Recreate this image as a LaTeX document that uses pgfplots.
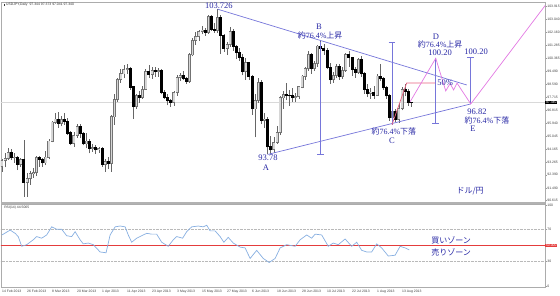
\documentclass[border=0pt]{standalone}
\usepackage{pgfplots}
\pgfplotsset{compat=1.18}
\usepackage{pgfplotstable}
\usepackage{fontspec}
\setmainfont{Liberation Serif}
\newfontfamily\cjk{Noto Sans CJK JP}
\newfontfamily\ui{Liberation Sans}

\definecolor{annoblue}{RGB}{118,118,218}
\definecolor{textblue}{RGB}{40,40,165}
\definecolor{zigpink}{RGB}{226,120,226}
\definecolor{halfred}{RGB}{232,96,128}
\definecolor{rsiblue}{RGB}{135,175,225}
\definecolor{levelred}{RGB}{228,60,60}

% daily bars: index, high, low
\pgfplotstableread{
x h l
0 93.50 92.60
1 93.85 92.90
2 94.20 93.40
3 94.15 93.40
4 93.90 93.20
5 93.70 92.70
6 93.55 92.95
7 94.75 90.90
8 92.50 90.85
9 92.65 91.70
10 92.85 92.20
11 93.65 92.30
12 93.70 92.95
13 93.55 92.95
14 94.00 93.05
15 94.85 93.50
16 96.05 94.60
17 96.60 95.90
18 96.70 95.60
19 96.40 95.70
20 96.60 95.80
21 96.30 95.10
22 95.40 94.40
23 95.30 94.30
24 95.90 94.90
25 95.90 94.90
26 95.30 94.40
27 95.25 94.20
28 94.85 93.85
29 94.50 93.95
30 94.40 93.80
31 94.30 93.90
32 94.30 92.95
33 93.50 92.60
34 93.60 92.80
35 96.50 92.60
36 97.90 95.80
37 99.00 97.40
38 99.60 98.70
39 99.90 99.00
40 99.95 99.30
41 99.75 98.20
42 98.50 96.20
43 97.95 96.90
44 98.10 97.30
45 98.50 97.60
46 99.60 98.20
47 99.90 99.05
48 99.75 98.95
49 99.80 99.10
50 99.70 99.10
51 99.60 97.90
52 98.20 97.55
53 97.95 97.15
54 97.60 97.05
55 98.10 97.10
56 99.20 97.80
57 99.35 98.80
58 99.50 98.85
59 99.10 98.60
60 100.70 98.70
61 101.75 100.50
62 102.15 101.30
63 102.30 101.55
64 102.55 102.00
65 102.45 101.90
66 103.30 102.05
67 103.30 102.25
68 102.80 102.10
69 103.73 102.10
70 103.35 100.65
71 102.05 100.80
72 101.45 100.60
73 102.50 101.15
74 102.35 100.90
75 101.30 100.30
76 101.05 100.20
77 100.65 99.20
78 100.40 98.90
79 100.10 98.90
80 99.20 96.50
81 97.90 94.95
82 99.00 97.30
83 98.90 95.90
84 96.60 95.60
85 96.35 93.78
86 95.05 93.80
87 95.00 93.90
88 95.70 94.50
89 97.80 95.10
90 98.10 96.90
91 98.70 97.50
92 98.20 97.10
93 98.30 97.40
94 98.00 97.40
95 98.50 97.60
96 99.20 98.30
97 99.80 98.90
98 100.85 99.50
99 100.75 99.30
100 100.15 99.50
101 101.25 99.80
102 101.53 100.80
103 101.35 100.60
104 101.05 99.60
105 100.05 98.60
106 99.40 98.70
107 99.95 99.00
108 100.00 98.90
109 99.75 98.95
110 100.70 99.45
111 100.85 99.80
112 100.45 99.15
113 99.75 99.05
114 100.40 99.30
115 100.50 99.10
116 99.40 97.95
117 98.60 97.70
118 98.30 97.60
119 98.50 97.60
120 99.30 97.80
121 99.95 98.80
122 99.10 98.20
123 98.45 97.60
124 97.95 96.10
125 96.95 95.82
126 96.90 96.00
127 97.30 95.95
128 98.40 96.80
129 98.60 97.75
130 98.25 97.10
131 97.373 97.041
}\ranges

% rising bars: index, open, close
\pgfplotstableread{
x o c
0 92.95 93.35
1 93.35 93.50
2 93.50 93.90
4 93.55 93.60
6 93.10 93.40
8 91.85 92.15
9 92.15 92.45
10 92.45 92.55
11 92.55 93.55
14 93.20 93.60
15 93.60 94.70
16 94.70 96.00
17 96.00 96.20
19 95.90 96.15
23 94.55 95.10
24 95.10 95.70
27 94.50 94.70
29 94.20 94.25
31 94.10 94.20
33 93.10 93.30
35 93.15 96.35
36 96.35 97.55
37 97.55 98.90
38 98.90 99.30
39 99.30 99.60
40 99.60 99.65
43 97.05 97.80
45 97.70 98.25
46 98.25 99.45
48 99.25 99.55
50 99.45 99.50
55 97.35 98.00
56 98.00 99.05
57 99.05 99.20
60 98.80 100.60
61 100.60 101.60
62 101.60 101.85
63 101.85 102.20
64 102.20 102.30
66 102.15 103.20
69 102.30 103.15
72 101.05 101.30
73 101.30 102.20
78 99.45 100.05
81 96.90 97.50
82 97.50 98.70
84 96.10 96.20
87 94.10 94.60
88 94.60 95.30
89 95.30 97.65
90 97.65 97.90
94 97.70 97.75
95 97.75 98.40
96 98.40 99.15
97 99.15 99.65
98 99.65 100.60
100 99.70 100.00
101 100.00 101.20
106 98.90 99.20
107 99.20 99.80
109 99.10 99.55
110 99.55 100.60
114 99.40 100.30
118 97.95 98.05
120 97.85 99.15
125 96.30 96.70
127 96.20 96.95
128 96.95 98.25
}\bull

% falling bars: index, open, close
\pgfplotstableread{
x o c
3 93.90 93.55
5 93.60 93.10
7 93.45 91.85
12 93.55 93.45
13 93.45 93.20
18 96.20 95.90
20 96.15 96.05
21 96.05 95.25
22 95.25 94.55
25 95.70 95.20
26 95.20 94.50
28 94.70 94.20
30 94.25 94.10
32 94.20 93.10
34 93.30 93.15
41 99.65 98.40
42 98.40 97.05
44 97.80 97.70
47 99.45 99.25
49 99.55 99.45
51 99.50 98.05
52 98.05 97.70
53 97.70 97.45
54 97.45 97.35
58 99.20 99.00
59 99.00 98.80
65 102.30 102.15
67 103.20 102.35
68 102.35 102.30
70 103.15 101.95
71 101.95 101.05
74 102.20 101.20
75 101.20 100.75
76 100.75 100.45
77 100.45 99.45
79 100.05 99.10
80 99.10 96.90
83 98.70 96.10
85 96.20 94.30
86 94.30 94.10
91 97.90 97.85
92 97.85 97.80
93 97.80 97.70
99 100.60 99.70
102 101.20 101.05
103 101.05 100.90
104 100.90 99.75
105 99.75 98.90
108 99.80 99.10
111 100.60 100.40
112 100.40 99.60
113 99.60 99.40
115 100.30 99.30
116 99.30 98.25
117 98.25 97.95
119 98.05 97.85
121 99.15 98.95
122 98.95 98.35
123 98.35 97.80
124 97.80 96.30
126 96.70 96.20
129 98.25 98.10
130 98.10 97.35
131 97.344 97.340
}\bear

\tikzset{
  lab/.style={text=textblue, font=\fontsize{8.5}{8.5}\selectfont, inner sep=0pt},
  jp/.style={text=textblue, font=\fontsize{8}{8}\selectfont, inner sep=0pt},
}
\newcommand{\smallui}{\ui\fontsize{3.4}{4}\selectfont}

\begin{document}
\begin{tikzpicture}
\useasboundingbox (0,0) rectangle (560pt,296pt);

% ---------- price panel ----------
\begin{axis}[
    at={(1pt,93pt)}, anchor=south west,
    scale only axis, width=544pt, height=201pt,
    xmin=-0.32, xmax=173.76,
    ymin=90.456, ymax=104.223,
    clip mode=individual,
    axis line style={gray!65, line width=0.6pt},
    xtick=\empty,
    ytick={103.915,103.040,102.160,101.285,100.365,99.490,98.590,97.715,96.815,95.940,95.045,94.165,93.265,92.390,91.490,90.615},
    yticklabels={103.915,103.040,102.160,101.285,100.365,99.490,98.590,97.715,96.815,95.940,95.045,94.165,93.265,92.390,91.490,90.615},
    ytick pos=right, tick align=outside, major tick length=1.5pt,
    tick style={gray!80, line width=0.4pt},
    yticklabel style={font=\smallui, text=black!75, inner sep=0.7pt},
]
% current price line
\addplot[gray!30, line width=0.5pt] coordinates {(-1,97.34) (175,97.34)};

% wicks: low to high
\addplot[mark=none, black!60, line width=0.6pt,
  quiver={u={0}, v={\thisrow{h}-\thisrow{l}}}]
  table[x=x, y=l] {\ranges};
% rising bodies: grey outline, light inside
\addplot[mark=none, black!55, line width=3pt,
  quiver={u={0}, v={\thisrow{c}-\thisrow{o}+0.07}}]
  table[x=x, y expr={\thisrow{o}-0.035}] {\bull};
\addplot[mark=none, black!16, line width=1.5pt,
  quiver={u={0}, v={max(\thisrow{c}-\thisrow{o}-0.05,0.001)}}]
  table[x=x, y expr={\thisrow{o}+0.025}] {\bull};
% falling bodies
\addplot[mark=none, black, line width=3pt,
  quiver={u={0}, v={\thisrow{o}-\thisrow{c}+0.07}}]
  table[x=x, y expr={\thisrow{c}-0.035}] {\bear};

% triangle trend lines
\addplot[annoblue, line width=0.7pt] coordinates {(69,103.73) (148.7,98.54)};
\addplot[annoblue, line width=0.7pt] coordinates {(85,93.78) (150.0,97.24)};
% wave measurement lines
\addplot[annoblue, line width=0.7pt] coordinates {(102,101.50) (102,93.80)};
\addplot[annoblue, line width=0.7pt] coordinates {(100.9,93.80) (103.1,93.80)};
\addplot[annoblue, line width=0.7pt] coordinates {(124.8,101.45) (124.8,95.82)};
\addplot[annoblue, line width=0.7pt] coordinates {(123.7,101.45) (125.9,101.45)};
\addplot[annoblue, line width=0.7pt] coordinates {(138.8,100.37) (138.8,95.93)};
\addplot[annoblue, line width=0.7pt] coordinates {(137.7,95.93) (139.9,95.93)};
\addplot[annoblue, line width=0.7pt] coordinates {(150.0,100.42) (150.0,97.24)};
\addplot[annoblue, line width=0.7pt] coordinates {(148.9,100.42) (151.1,100.42)};
% 50% level
\addplot[halfred, line width=0.7pt] coordinates {(124.8,95.82) (129.5,98.68) (138.6,98.68)};
% projected path
\addplot[zigpink, line width=0.7pt] coordinates {
  (130.6,97.39) (138.8,100.37) (142.0,98.13) (143.4,98.64) (144.5,98.20)
  (145.6,98.67) (150.0,97.24) (174.4,104.15)};

% labels
\node[lab] at (axis cs:69.4,103.98) {103.726};
\node[lab] at (axis cs:101.4,102.51) {B};
\node[jp] at (axis cs:101.8,101.96) {{\cjk 約}76.4\%{\cjk 上昇}};
\node[lab] at (axis cs:85.1,93.54) {93.78};
\node[lab] at (axis cs:84.5,92.85) {A};
\node[jp] at (axis cs:125.4,95.34) {{\cjk 約}76.4\%{\cjk 下落}};
\node[lab] at (axis cs:124.8,94.72) {C};
\node[lab] at (axis cs:138.9,101.83) {D};
\node[jp] at (axis cs:140.2,101.28) {{\cjk 約}76.4\%{\cjk 上昇}};
\node[lab] at (axis cs:140.2,100.73) {100.20};
\node[lab] at (axis cs:151.7,100.80) {100.20};
\node[lab] at (axis cs:141.8,98.68) {50\%};
\node[lab] at (axis cs:152.0,96.72) {96.82};
\node[jp] at (axis cs:155.2,96.13) {{\cjk 約}76.4\%{\cjk 下落}};
\node[lab] at (axis cs:150.7,95.56) {E};
\node[jp] at (axis cs:149.8,91.28) {\cjk ドル/円};

\node[anchor=west, font=\smallui, text=black!80, inner sep=0pt] at (axis cs:0.5,104.02)
  {\rule{1.5pt}{1.5pt}\ USDJPY,Daily\ \ 97.344 97.373 97.041 97.340};
\node[anchor=west, fill=black, text=white, font=\smallui, inner sep=0.6pt] at (axis cs:173.85,97.34) {97.340};
\end{axis}

% ---------- RSI panel ----------
\begin{axis}[
    at={(1pt,9pt)}, anchor=south west,
    scale only axis, width=544pt, height=83pt,
    xmin=-0.32, xmax=173.76,
    ymin=-1.23, ymax=101.2,
    clip mode=individual,
    axis line style={gray!65, line width=0.6pt},
    xtick={0,8,...,128},
    xticklabels={14 Feb 2013,26 Feb 2013,8 Mar 2013,20 Mar 2013,1 Apr 2013,11 Apr 2013,23 Apr 2013,3 May 2013,15 May 2013,27 May 2013,6 Jun 2013,18 Jun 2013,28 Jun 2013,10 Jul 2013,22 Jul 2013,1 Aug 2013,13 Aug 2013},
    xtick pos=bottom,
    ytick={0,30,70,100}, yticklabels={0,30,70,100},
    ytick pos=right, tick align=outside, major tick length=1.5pt,
    tick style={gray!80, line width=0.4pt},
    xticklabel style={font=\smallui, text=black!75, anchor=north west, inner sep=1pt, xshift=-1pt},
    yticklabel style={font=\smallui, text=black!75, inner sep=0.7pt},
]
\addplot[gray!55, densely dotted, line width=0.4pt] coordinates {(-1,70) (175,70)};
\addplot[gray!55, densely dotted, line width=0.4pt] coordinates {(-1,30) (175,30)};
\addplot[levelred, line width=0.6pt] coordinates {(-1,50) (175,50)};
\addplot[rsiblue, line width=0.7pt] coordinates {
  (0,63) (2.6,69) (4.2,65) (5.2,61) (6.3,49) (7.9,51) (10.0,57) (11.1,61)
  (12.7,59) (14.3,63) (15.9,73) (17.5,70) (19.1,70) (20.7,62) (22.3,61)
  (23.4,67) (25.0,57) (26.0,52) (27.6,53) (29.2,51) (31.4,42) (33.3,41)
  (34.6,63) (36.2,73) (37.8,74) (39.4,73) (40.4,63) (41.5,54) (43.1,59)
  (45.2,63) (46.3,65) (47.9,64) (49.5,64) (51.1,54) (53.2,49) (54.8,57)
  (55.9,61) (57.8,59) (59.1,67) (60.7,73) (62.8,74) (64.4,73) (65.5,75)
  (66.6,68) (68.2,68) (69.8,61) (71.0,54) (72.4,60) (74.0,53) (76.2,48)
  (77.8,47) (79.4,34) (81.5,44) (83.6,34) (85.5,29) (87.4,34) (89.0,47)
  (91.1,51) (93.8,49) (95.4,57) (97.5,63) (99.1,59) (100.2,64) (102.3,63)
  (104.4,49) (106.0,53) (107.6,51) (109.8,58) (111.9,49) (113.5,54)
  (115.1,44) (116.7,42) (118.3,42) (119.9,52) (121.5,47) (123.6,37)
  (125.8,38) (127.4,49) (129.0,47) (130.3,44.5)};

\node[jp] at (axis cs:143.7,56.8) {\cjk 買いゾーン};
\node[jp] at (axis cs:143.7,42.0) {\cjk 売りゾーン};
\node[anchor=north west, font=\smallui, text=black!80, inner sep=0.5pt] at (axis cs:0.5,100) {RSI(14) 44.5065};
\node[anchor=west, fill=levelred, text=white, font=\smallui, inner sep=0.6pt] at (axis cs:173.85,50) {50.000};
\end{axis}

% panel separator
\draw[gray!60, line width=2pt] (1pt,93pt) -- (545pt,93pt);
\end{tikzpicture}
\end{document}
